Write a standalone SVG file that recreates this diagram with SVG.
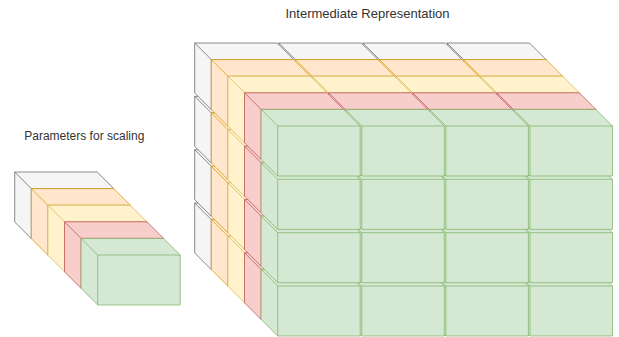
<svg xmlns="http://www.w3.org/2000/svg" xmlns:xlink="http://www.w3.org/1999/xlink" width="619" height="337" viewBox="0 0 619 337">
  <style>
    .label { font-family: "Liberation Sans", Arial, Helvetica, sans-serif; font-size: 12px; fill: #333333; text-anchor: middle; }
    .label.title { font-size: 13px; }
    .grey   { fill: #f5f5f5; stroke: #666666; }
    .orange { fill: #ffe6cc; stroke: #d79b00; }
    .yellow { fill: #fff2cc; stroke: #d6b656; }
    .red    { fill: #f8cecc; stroke: #b85450; }
    .green  { fill: #d5e8d4; stroke: #82b366; }
    .layer  { stroke-width: 1; stroke-linejoin: round; stroke-opacity: 0.75; }
  </style>
  <defs>
    <!-- cuboid: depth 16.6, front face 82.5 x 50; colours inherited from the layer group -->
    <g id="cube">
      <path d="M0,0 H82.5 L99.1,16.6 V66.6 H16.6 L0,50 Z"/>
      <path d="M0,0 L16.6,16.6 H99.1 M16.6,16.6 V66.6" fill="none"/>
    </g>
  </defs>

  <text class="label title" x="367.5" y="17.5">Intermediate Representation</text>
  <text class="label" x="84.3" y="140">Parameters for scaling</text>

  <!-- scaling parameters: one stack of five cuboids -->
  <g id="params">
    <g id="param-0" class="layer grey"><use xlink:href="#cube" x="14.7" y="172"/></g>
    <g id="param-1" class="layer orange"><use xlink:href="#cube" x="31.3" y="188.6"/></g>
    <g id="param-2" class="layer yellow"><use xlink:href="#cube" x="47.9" y="205.2"/></g>
    <g id="param-3" class="layer red"><use xlink:href="#cube" x="64.5" y="221.8"/></g>
    <g id="param-4" class="layer green"><use xlink:href="#cube" x="81.1" y="238.4"/></g>
  </g>

  <!-- intermediate representation: five layers of 4 x 4 cuboids, drawn back to front,
       lower rows and right columns first so upper/left faces overlap them -->
  <g id="ir">
    <g id="ir-layer-0" class="layer grey">
      <use id="ir-0-3-3" xlink:href="#cube" x="447.0" y="203"/>
      <use id="ir-0-3-2" xlink:href="#cube" x="362.9" y="203"/>
      <use id="ir-0-3-1" xlink:href="#cube" x="278.8" y="203"/>
      <use id="ir-0-3-0" xlink:href="#cube" x="194.7" y="203"/>
      <use id="ir-0-2-3" xlink:href="#cube" x="447.0" y="149.67"/>
      <use id="ir-0-2-2" xlink:href="#cube" x="362.9" y="149.67"/>
      <use id="ir-0-2-1" xlink:href="#cube" x="278.8" y="149.67"/>
      <use id="ir-0-2-0" xlink:href="#cube" x="194.7" y="149.67"/>
      <use id="ir-0-1-3" xlink:href="#cube" x="447.0" y="96.33"/>
      <use id="ir-0-1-2" xlink:href="#cube" x="362.9" y="96.33"/>
      <use id="ir-0-1-1" xlink:href="#cube" x="278.8" y="96.33"/>
      <use id="ir-0-1-0" xlink:href="#cube" x="194.7" y="96.33"/>
      <use id="ir-0-0-3" xlink:href="#cube" x="447.0" y="43"/>
      <use id="ir-0-0-2" xlink:href="#cube" x="362.9" y="43"/>
      <use id="ir-0-0-1" xlink:href="#cube" x="278.8" y="43"/>
      <use id="ir-0-0-0" xlink:href="#cube" x="194.7" y="43"/>
    </g>
    <g id="ir-layer-1" class="layer orange">
      <use id="ir-1-3-3" xlink:href="#cube" x="463.6" y="219.6"/>
      <use id="ir-1-3-2" xlink:href="#cube" x="379.5" y="219.6"/>
      <use id="ir-1-3-1" xlink:href="#cube" x="295.4" y="219.6"/>
      <use id="ir-1-3-0" xlink:href="#cube" x="211.3" y="219.6"/>
      <use id="ir-1-2-3" xlink:href="#cube" x="463.6" y="166.27"/>
      <use id="ir-1-2-2" xlink:href="#cube" x="379.5" y="166.27"/>
      <use id="ir-1-2-1" xlink:href="#cube" x="295.4" y="166.27"/>
      <use id="ir-1-2-0" xlink:href="#cube" x="211.3" y="166.27"/>
      <use id="ir-1-1-3" xlink:href="#cube" x="463.6" y="112.93"/>
      <use id="ir-1-1-2" xlink:href="#cube" x="379.5" y="112.93"/>
      <use id="ir-1-1-1" xlink:href="#cube" x="295.4" y="112.93"/>
      <use id="ir-1-1-0" xlink:href="#cube" x="211.3" y="112.93"/>
      <use id="ir-1-0-3" xlink:href="#cube" x="463.6" y="59.6"/>
      <use id="ir-1-0-2" xlink:href="#cube" x="379.5" y="59.6"/>
      <use id="ir-1-0-1" xlink:href="#cube" x="295.4" y="59.6"/>
      <use id="ir-1-0-0" xlink:href="#cube" x="211.3" y="59.6"/>
    </g>
    <g id="ir-layer-2" class="layer yellow">
      <use id="ir-2-3-3" xlink:href="#cube" x="480.2" y="236.2"/>
      <use id="ir-2-3-2" xlink:href="#cube" x="396.1" y="236.2"/>
      <use id="ir-2-3-1" xlink:href="#cube" x="312.0" y="236.2"/>
      <use id="ir-2-3-0" xlink:href="#cube" x="227.9" y="236.2"/>
      <use id="ir-2-2-3" xlink:href="#cube" x="480.2" y="182.87"/>
      <use id="ir-2-2-2" xlink:href="#cube" x="396.1" y="182.87"/>
      <use id="ir-2-2-1" xlink:href="#cube" x="312.0" y="182.87"/>
      <use id="ir-2-2-0" xlink:href="#cube" x="227.9" y="182.87"/>
      <use id="ir-2-1-3" xlink:href="#cube" x="480.2" y="129.53"/>
      <use id="ir-2-1-2" xlink:href="#cube" x="396.1" y="129.53"/>
      <use id="ir-2-1-1" xlink:href="#cube" x="312.0" y="129.53"/>
      <use id="ir-2-1-0" xlink:href="#cube" x="227.9" y="129.53"/>
      <use id="ir-2-0-3" xlink:href="#cube" x="480.2" y="76.2"/>
      <use id="ir-2-0-2" xlink:href="#cube" x="396.1" y="76.2"/>
      <use id="ir-2-0-1" xlink:href="#cube" x="312.0" y="76.2"/>
      <use id="ir-2-0-0" xlink:href="#cube" x="227.9" y="76.2"/>
    </g>
    <g id="ir-layer-3" class="layer red">
      <use id="ir-3-3-3" xlink:href="#cube" x="496.8" y="252.8"/>
      <use id="ir-3-3-2" xlink:href="#cube" x="412.7" y="252.8"/>
      <use id="ir-3-3-1" xlink:href="#cube" x="328.6" y="252.8"/>
      <use id="ir-3-3-0" xlink:href="#cube" x="244.5" y="252.8"/>
      <use id="ir-3-2-3" xlink:href="#cube" x="496.8" y="199.47"/>
      <use id="ir-3-2-2" xlink:href="#cube" x="412.7" y="199.47"/>
      <use id="ir-3-2-1" xlink:href="#cube" x="328.6" y="199.47"/>
      <use id="ir-3-2-0" xlink:href="#cube" x="244.5" y="199.47"/>
      <use id="ir-3-1-3" xlink:href="#cube" x="496.8" y="146.13"/>
      <use id="ir-3-1-2" xlink:href="#cube" x="412.7" y="146.13"/>
      <use id="ir-3-1-1" xlink:href="#cube" x="328.6" y="146.13"/>
      <use id="ir-3-1-0" xlink:href="#cube" x="244.5" y="146.13"/>
      <use id="ir-3-0-3" xlink:href="#cube" x="496.8" y="92.8"/>
      <use id="ir-3-0-2" xlink:href="#cube" x="412.7" y="92.8"/>
      <use id="ir-3-0-1" xlink:href="#cube" x="328.6" y="92.8"/>
      <use id="ir-3-0-0" xlink:href="#cube" x="244.5" y="92.8"/>
    </g>
    <g id="ir-layer-4" class="layer green">
      <use id="ir-4-3-3" xlink:href="#cube" x="513.4" y="269.4"/>
      <use id="ir-4-3-2" xlink:href="#cube" x="429.3" y="269.4"/>
      <use id="ir-4-3-1" xlink:href="#cube" x="345.2" y="269.4"/>
      <use id="ir-4-3-0" xlink:href="#cube" x="261.1" y="269.4"/>
      <use id="ir-4-2-3" xlink:href="#cube" x="513.4" y="216.07"/>
      <use id="ir-4-2-2" xlink:href="#cube" x="429.3" y="216.07"/>
      <use id="ir-4-2-1" xlink:href="#cube" x="345.2" y="216.07"/>
      <use id="ir-4-2-0" xlink:href="#cube" x="261.1" y="216.07"/>
      <use id="ir-4-1-3" xlink:href="#cube" x="513.4" y="162.73"/>
      <use id="ir-4-1-2" xlink:href="#cube" x="429.3" y="162.73"/>
      <use id="ir-4-1-1" xlink:href="#cube" x="345.2" y="162.73"/>
      <use id="ir-4-1-0" xlink:href="#cube" x="261.1" y="162.73"/>
      <use id="ir-4-0-3" xlink:href="#cube" x="513.4" y="109.4"/>
      <use id="ir-4-0-2" xlink:href="#cube" x="429.3" y="109.4"/>
      <use id="ir-4-0-1" xlink:href="#cube" x="345.2" y="109.4"/>
      <use id="ir-4-0-0" xlink:href="#cube" x="261.1" y="109.4"/>
    </g>
  </g>

  <!-- no connectors in this drawing -->
  <g id="connectors"/>
</svg>
